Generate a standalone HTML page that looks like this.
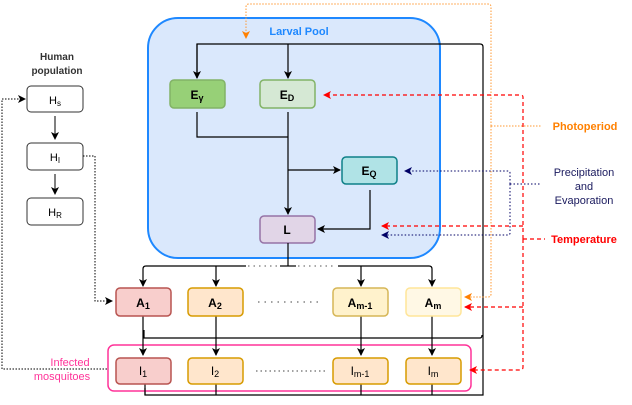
<!DOCTYPE html>
<html><head><style>
body{margin:0;width:632px;height:400px;background:#fff;overflow:hidden}
svg{font-family:"Liberation Sans",sans-serif}
</style></head><body>
<svg width="632" height="400" viewBox="0 0 632 400" xmlns="http://www.w3.org/2000/svg">
<defs>
<marker id="ab" markerWidth="8" markerHeight="8" refX="7" refY="4" orient="auto" markerUnits="userSpaceOnUse"><path d="M0,0 L8,4 L0,8 L2,4 z" fill="#000"/></marker>
<marker id="ao" markerWidth="8" markerHeight="8" refX="7" refY="4" orient="auto" markerUnits="userSpaceOnUse"><path d="M0,0 L8,4 L0,8 L2,4 z" fill="#ff8000"/></marker>
<marker id="ar" markerWidth="8" markerHeight="8" refX="7" refY="4" orient="auto" markerUnits="userSpaceOnUse"><path d="M0,0 L8,4 L0,8 L2,4 z" fill="#ff0000"/></marker>
<marker id="an" markerWidth="8" markerHeight="8" refX="7" refY="4" orient="auto" markerUnits="userSpaceOnUse"><path d="M0,0 L8,4 L0,8 L2,4 z" fill="#000066"/></marker>
</defs>
<rect x="148" y="18" width="292" height="240" rx="30" fill="#dae8fc" stroke="#1e88ff" stroke-width="2"/>
<text x="299" y="35" font-size="11" font-weight="bold" fill="#1e88ff" text-anchor="middle">Larval Pool</text>
<path d="M197,78 V44 H480 Q483,44 483,47 V395 H145 V388" fill="none" stroke="#000" stroke-width="1.2"/>
<path d="M197,44 V78" stroke="#000" stroke-width="1.2" marker-end="url(#ab)"/>
<path d="M288,44 V78" stroke="#000" stroke-width="1.2" marker-end="url(#ab)"/>
<path d="M197,112 V137 H288" fill="none" stroke="#000" stroke-width="1.2"/>
<path d="M288,112 V214" stroke="#000" stroke-width="1.2" marker-end="url(#ab)"/>
<path d="M288,170 H340" stroke="#000" stroke-width="1.2" marker-end="url(#ab)"/>
<path d="M370,190 V229 H318" fill="none" stroke="#000" stroke-width="1.2" marker-end="url(#ab)"/>
<rect x="170" y="80" width="55" height="28" rx="4" fill="#97d077" stroke="#82b366" stroke-width="1.5"/>
<text x="197" y="99" font-size="12" font-weight="bold" text-anchor="middle">E<tspan font-size="9" dy="2">γ</tspan></text>
<rect x="260" y="80" width="55" height="28" rx="4" fill="#d5e8d4" stroke="#82b366" stroke-width="1.5"/>
<text x="287" y="99" font-size="12" font-weight="bold" text-anchor="middle">E<tspan font-size="9" dy="2">D</tspan></text>
<rect x="342" y="157" width="55" height="27" rx="4" fill="#b0e3e6" stroke="#0e8088" stroke-width="1.5"/>
<text x="369" y="175" font-size="12" font-weight="bold" text-anchor="middle">E<tspan font-size="9" dy="2">Q</tspan></text>
<rect x="260" y="216" width="55" height="27" rx="4" fill="#e1d5e7" stroke="#9673a6" stroke-width="1.5"/>
<text x="287" y="234" font-size="12" font-weight="bold" text-anchor="middle">L</text>
<text x="57" y="60" font-size="10" font-weight="bold" text-anchor="middle" fill="#333">Human</text>
<text x="57" y="74" font-size="10" font-weight="bold" text-anchor="middle" fill="#333">population</text>
<rect x="27" y="86" width="56" height="26" rx="4" fill="#fff" stroke="#333"/>
<text x="55" y="104" font-size="11" text-anchor="middle">H<tspan font-size="8" dy="2">s</tspan></text>
<rect x="27" y="143" width="56" height="27" rx="4" fill="#fff" stroke="#333"/>
<text x="55" y="161" font-size="11" text-anchor="middle">H<tspan font-size="8" dy="2">I</tspan></text>
<rect x="27" y="198" width="56" height="27" rx="4" fill="#fff" stroke="#333"/>
<text x="55" y="216" font-size="11" text-anchor="middle">H<tspan font-size="8" dy="2">R</tspan></text>
<path d="M55,116 V139" stroke="#000" marker-end="url(#ab)"/>
<path d="M55,174 V194" stroke="#000" marker-end="url(#ab)"/>
<path d="M83,156 H95 V301 H112" fill="none" stroke="#000" stroke-dasharray="1.5,1.5" marker-end="url(#ab)"/>
<path d="M107,369 H2 V99 H25" fill="none" stroke="#000" stroke-dasharray="1.5,1.5" marker-end="url(#ab)"/>
<path d="M288,243 V266" stroke="#000" stroke-width="1.2"/>
<path d="M246,266 H146 Q143,266 143,269 V286" fill="none" stroke="#000" stroke-width="1.2" marker-end="url(#ab)"/>
<path d="M216,266 V286" stroke="#000" stroke-width="1.2" marker-end="url(#ab)"/>
<path d="M280,266 H296" stroke="#000" stroke-width="1.2"/>
<path d="M338,266 H429 Q432,266 432,269 V286" fill="none" stroke="#000" stroke-width="1.2" marker-end="url(#ab)"/>
<path d="M361,266 V286" stroke="#000" stroke-width="1.2" marker-end="url(#ab)"/>
<path d="M248,266 H280 M298,266 H336" stroke="#555" stroke-dasharray="1.5,4"/>
<rect x="108" y="345" width="363" height="46" rx="6" fill="none" stroke="#ff3399" stroke-width="1.5"/>
<text x="70" y="366" font-size="11" fill="#ff3399" text-anchor="middle">Infected</text>
<text x="62" y="380" font-size="11" fill="#ff3399" text-anchor="middle">mosquitoes</text>
<path d="M143,316 V355 M216,316 V355 M361,316 V355 M432,316 V355" stroke="#000" stroke-width="1.2" fill="none"/>
<path d="M143,335 V355" stroke="#000" marker-end="url(#ab)"/>
<path d="M216,335 V355" stroke="#000" marker-end="url(#ab)"/>
<path d="M361,335 V355" stroke="#000" marker-end="url(#ab)"/>
<path d="M432,335 V355" stroke="#000" marker-end="url(#ab)"/>
<path d="M144,330 V338 H480 Q482,338 482,335" fill="none" stroke="#000" stroke-width="1.2"/>
<path d="M216,384 V395 M361,384 V395 M432,384 V395 M145,384 V395" stroke="#000" stroke-width="1.2"/>
<rect x="116" y="288" width="55" height="28" rx="4" fill="#f8cecc" stroke="#b85450" stroke-width="1.5"/>
<text x="143" y="307" font-size="12" font-weight="bold" text-anchor="middle">A<tspan font-size="9" dy="2">1</tspan></text>
<rect x="188" y="288" width="55" height="28" rx="4" fill="#ffe6cc" stroke="#d79b00" stroke-width="1.5"/>
<text x="215" y="307" font-size="12" font-weight="bold" text-anchor="middle">A<tspan font-size="9" dy="2">2</tspan></text>
<rect x="333" y="288" width="55" height="28" rx="4" fill="#fff2cc" stroke="#d6b656" stroke-width="1.5"/>
<text x="360" y="307" font-size="12" font-weight="bold" text-anchor="middle">A<tspan font-size="9" dy="2">m-1</tspan></text>
<rect x="406" y="288" width="55" height="28" rx="4" fill="#fff8e5" stroke="#ffe599" stroke-width="1.5"/>
<text x="433" y="307" font-size="12" font-weight="bold" text-anchor="middle">A<tspan font-size="9" dy="2">m</tspan></text>
<path d="M258,302 H322" stroke="#444" stroke-dasharray="1.5,5"/>
<rect x="116" y="358" width="55" height="26" rx="4" fill="#f8cecc" stroke="#b85450" stroke-width="1.5"/>
<text x="143" y="375" font-size="12" text-anchor="middle">I<tspan font-size="9" dy="2">1</tspan></text>
<rect x="188" y="358" width="55" height="26" rx="4" fill="#ffe6cc" stroke="#d79b00" stroke-width="1.5"/>
<text x="215" y="375" font-size="12" text-anchor="middle">I<tspan font-size="9" dy="2">2</tspan></text>
<rect x="333" y="358" width="55" height="26" rx="4" fill="#ffe6cc" stroke="#d79b00" stroke-width="1.5"/>
<text x="360" y="375" font-size="12" text-anchor="middle">I<tspan font-size="9" dy="2">m-1</tspan></text>
<rect x="406" y="358" width="55" height="26" rx="4" fill="#ffe6cc" stroke="#d79b00" stroke-width="1.5"/>
<text x="433" y="375" font-size="12" text-anchor="middle">I<tspan font-size="9" dy="2">m</tspan></text>
<path d="M256,371 H328" stroke="#444" stroke-dasharray="1.5,3"/>
<path d="M491,126 V7 Q491,4 488,4 H249 Q246,4 246,7 V38" fill="none" stroke="#ff9933" stroke-dasharray="1.5,1.5" marker-end="url(#ao)"/>
<path d="M491,126 V294 Q491,297 488,297 H465" fill="none" stroke="#ff9933" stroke-dasharray="1.5,1.5" marker-end="url(#ao)"/>
<path d="M491,126 H542" stroke="#ff9933" stroke-dasharray="1.5,1.5"/>
<text x="585" y="130" font-size="11" font-weight="bold" fill="#ff8000" text-anchor="middle">Photoperiod</text>
<path d="M523,239 V97 Q523,95 520,95 H324" fill="none" stroke="#ff0000" stroke-dasharray="4,3" stroke-width="1.2" marker-end="url(#ar)"/>
<path d="M523,226 H382" stroke="#ff0000" stroke-dasharray="4,3" stroke-width="1.2" marker-end="url(#ar)"/>
<path d="M523,239 V367 Q523,370 520,370 H470" fill="none" stroke="#ff0000" stroke-dasharray="4,3" stroke-width="1.2" marker-end="url(#ar)"/>
<path d="M523,307 H465" stroke="#ff0000" stroke-dasharray="4,3" stroke-width="1.2" marker-end="url(#ar)"/>
<path d="M523,239 H545" stroke="#ff0000" stroke-dasharray="4,3" stroke-width="1.2"/>
<text x="584" y="243" font-size="11" font-weight="bold" fill="#ff0000" text-anchor="middle">Temperature</text>
<path d="M510,184 V173 Q510,171 508,171 H405" fill="none" stroke="#000066" stroke-dasharray="1.5,2" marker-end="url(#an)"/>
<path d="M510,184 V233 Q510,235 508,235 H382" fill="none" stroke="#000066" stroke-dasharray="1.5,2" marker-end="url(#an)"/>
<path d="M510,184 H540" stroke="#000066" stroke-dasharray="1.5,2"/>
<text x="584" y="176" font-size="11" fill="#1a1a5e" text-anchor="middle">Precipitation</text>
<text x="584" y="190" font-size="11" fill="#1a1a5e" text-anchor="middle">and</text>
<text x="584" y="204" font-size="11" fill="#1a1a5e" text-anchor="middle">Evaporation</text>
</svg>
</body></html>
